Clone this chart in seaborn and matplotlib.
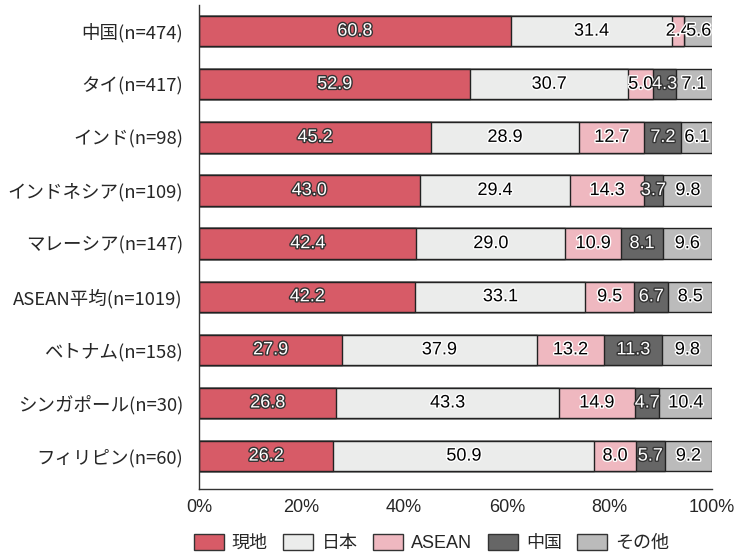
import numpy as np
import pandas as pd
import matplotlib
matplotlib.use("Agg")
import matplotlib.pyplot as plt
import matplotlib.patheffects as pe
from matplotlib.patches import Patch
import seaborn as sns

countries = ["中国(n=474)", "タイ(n=417)", "インド(n=98)", "インドネシア(n=109)",
             "マレーシア(n=147)", "ASEAN平均(n=1019)", "ベトナム(n=158)",
             "シンガポール(n=30)", "フィリピン(n=60)"]
local = [60.8, 52.9, 45.2, 43.0, 42.4, 42.2, 27.9, 26.8, 26.2]
japan = [31.4, 30.7, 28.9, 29.4, 29.0, 33.1, 37.9, 43.3, 50.9]
asean = [2.4, 5.0, 12.7, 14.3, 10.9, 9.5, 13.2, 14.9, 8.0]
china = [0.0, 4.3, 7.2, 3.7, 8.1, 6.7, 11.3, 4.7, 5.7]
other = [5.6, 7.1, 6.1, 9.8, 9.6, 8.5, 9.8, 10.4, 9.2]

series_names = ["現地", "日本", "ASEAN", "中国", "その他"]
series_vals = [local, japan, asean, china, other]
colors = ["#D75B67", "#EBECEB", "#EFB8C0", "#666666", "#BBBBBB"]
text_dark = [False, True, True, False, True]

sns.set_theme(style="white")
plt.rcParams["font.family"] = ["Noto Sans CJK JP", "DejaVu Sans"]
latin_cjk = ["Liberation Sans", "Noto Sans CJK JP", "DejaVu Sans"]

df = pd.DataFrame({"country": countries})
for name, vals in zip(series_names, series_vals):
    df[name] = vals
cum = df[series_names].cumsum(axis=1)

fig = plt.figure(figsize=(7.34, 5.53), dpi=100)
ax = fig.add_axes([0.271, 0.1157, 0.699, 0.875])

# stacked bars: draw cumulative totals from the outermost segment inwards
for name, col in reversed(list(zip(series_names, colors))):
    sns.barplot(x=cum[name], y=df["country"], color=col, orient="h",
                width=0.57, edgecolor="#222222", linewidth=1.0, ax=ax,
                saturation=1)

# segment value labels
for i in range(len(countries)):
    start = 0.0
    for j, name in enumerate(series_names):
        v = df[name].iloc[i]
        if v > 0:
            if text_dark[j]:
                fc, ec = "black", "white"
            else:
                fc, ec = "white", "#333333"
            ax.text(start + v / 2, i, f"{v:.1f}", ha="center", va="center",
                    fontsize=13, color=fc, family=latin_cjk,
                    path_effects=[pe.withStroke(linewidth=2, foreground=ec)])
        start += v

ax.set_xlim(0, 100)
ax.set_ylim(8.62, -0.49)
ax.set_xticks([0, 20, 40, 60, 80, 100])
ax.set_xticklabels([f"{t}%" for t in [0, 20, 40, 60, 80, 100]],
                   fontsize=13, family=latin_cjk)
for lbl in ax.get_yticklabels():
    lbl.set_fontsize(13.3)
ax.tick_params(axis="y", length=0, pad=11.5)
ax.tick_params(axis="x", length=0, pad=7)
ax.set_xlabel("")
ax.set_ylabel("")
for s in ["top", "right"]:
    ax.spines[s].set_visible(False)
for s in ["left", "bottom"]:
    ax.spines[s].set_color("#333333")
    ax.spines[s].set_linewidth(1.0)

handles = [Patch(facecolor=c, edgecolor="#333333", label=n)
           for n, c in zip(series_names, colors)]
fig.legend(handles=handles, loc="center", bbox_to_anchor=(0.588, 0.018), ncol=5,
           frameon=False, prop={"family": latin_cjk, "size": 13},
           handlelength=1.67, handleheight=1.0,
           handletextpad=0.45, columnspacing=0.85, borderpad=0.1)

fig.savefig("out.png", dpi=100)
